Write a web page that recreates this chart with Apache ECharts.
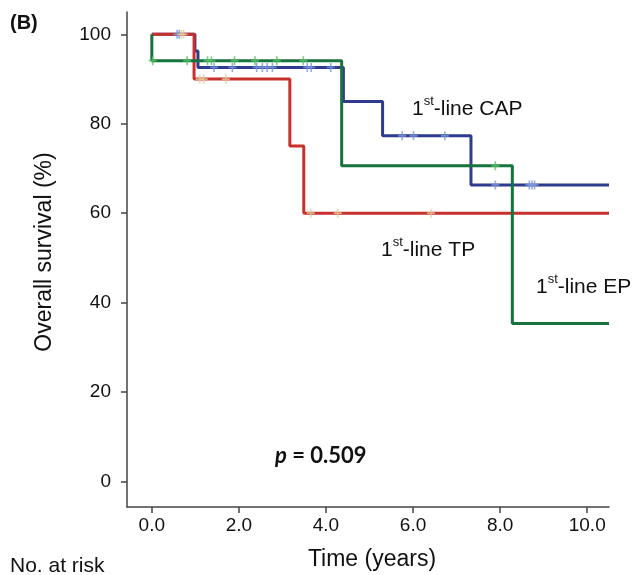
<!DOCTYPE html>
<html>
<head>
<meta charset="utf-8">
<script src="https://cdn.jsdelivr.net/npm/echarts@6/dist/echarts.min.js"></script>
<style>
  html, body { margin: 0; padding: 0; background: #fff; }
  #chart { width: 633px; height: 575px; }
</style>
</head>
<body>
<div id="chart"></div>
<script>
// Kaplan-Meier steps (time in years, survival %)
const capTimes = [0, 0.99, 1.06, 4.40, 5.30, 7.33, 10.5];
const capSurv = [100, 96.3, 92.6, 85.0, 77.3, 66.3, 66.3];
const epTimes = [0, 0, 4.36, 8.28, 10.5];
const epSurv = [100, 94.1, 70.6, 35.3, 35.3];
const tpTimes = [0, 0.97, 3.17, 3.49, 10.5];
const tpSurv = [100, 90, 75, 60, 60];

// censored observations (time in years)
const capCensor = [0.58, 0.63, 1.43, 1.85, 2.41, 2.54, 2.65, 2.77, 3.57, 3.66, 4.11, 5.75, 6.01, 6.73, 7.89, 8.67, 8.73, 8.79];
const epCensor = [0.02, 0.81, 1.28, 1.37, 1.9, 2.37, 2.87, 3.48, 7.89];
const tpCensor = [0.68, 0.73, 1.1, 1.19, 1.7, 3.65, 4.27, 6.41];

const xTicks = [0, 2, 4, 6, 8, 10];
const yTicks = [0, 20, 40, 60, 80, 100];

function steps(times, surv) {
  return times.map((t, i) => [t, surv[i]]);
}
// survival value at a given time
function survAt(times, surv, t) {
  let s = surv[0];
  for (let i = 0; i < times.length; i++) {
    if (times[i] <= t) s = surv[i];
  }
  return s;
}
function censorPts(list, times, surv) {
  return list.map(t => [t, survAt(times, surv, t)]);
}

const plus = 'path://M4,0H6V4H10V6H6V10H4V6H0V4H4Z';
const font = '"Liberation Sans", Arial, sans-serif';

function curve(name, data, color, z) {
  return {
    name: name, type: 'line', step: 'end', data: data,
    symbol: 'none', z: z,
    lineStyle: { color: color, width: 3 }
  };
}
function marks(name, data, color) {
  return {
    name: name, type: 'scatter', data: data, z: 10,
    symbol: plus, symbolSize: [8, 9],
    itemStyle: { color: color }
  };
}
function supLabel(x, y, rest) {
  return {
    type: 'text', left: x, top: y,
    style: {
      text: '{a|1}{s|st}{a|' + rest + '}',
      rich: {
        a: { fontFamily: font, fontSize: 21, fill: '#111', lineHeight: 26, verticalAlign: 'bottom' },
        s: { fontFamily: font, fontSize: 13, fill: '#111', lineHeight: 26, verticalAlign: 'top', padding: [1, 0, 0, 0] }
      }
    }
  };
}

const axisCommon = {
  axisLine: { show: true, onZero: false, lineStyle: { color: '#444', width: 1.5 } },
  splitLine: { show: false }
};

const chart = echarts.init(document.getElementById('chart'));
chart.setOption({
  animation: false,
  backgroundColor: '#fff',
  grid: { left: 127, right: 24, top: 12, bottom: 68 },
  xAxis: Object.assign({
    type: 'value', min: -0.57, max: 10.5,
    axisTick: { show: true, length: 6, customValues: xTicks, lineStyle: { color: '#444', width: 1.5 } },
    axisLabel: {
      customValues: xTicks, margin: 9, color: '#111', fontFamily: font, fontSize: 19,
      formatter: v => v.toFixed(1)
    }
  }, axisCommon),
  yAxis: Object.assign({
    type: 'value', min: -5.75, max: 105,
    axisTick: { show: true, length: 6, customValues: yTicks, lineStyle: { color: '#444', width: 1.5 } },
    axisLabel: { customValues: yTicks, margin: 16, color: '#111', fontFamily: font, fontSize: 19 }
  }, axisCommon),
  series: [
    curve('1st-line CAP', steps(capTimes, capSurv), '#2e3b8f', 2),
    curve('1st-line TP', steps(tpTimes, tpSurv), '#c8302c', 3),
    curve('1st-line EP', steps(epTimes, epSurv), '#17733d', 4),
    marks('CAP censored', censorPts(capCensor, capTimes, capSurv), '#7b97dc'),
    marks('EP censored', censorPts(epCensor, epTimes, epSurv), '#52c462'),
    marks('TP censored', censorPts(tpCensor, tpTimes, tpSurv), '#e3cc98')
  ],
  graphic: [
    {
      type: 'text', x: 10, y: 23,
      style: { text: '(B)', fontFamily: font, fontSize: 20, fontWeight: 'bold', fill: '#111', verticalAlign: 'middle' }
    },
    {
      type: 'text', x: 45, y: 252, rotation: Math.PI / 2,
      style: { text: 'Overall survival (%)', fontFamily: font, fontSize: 23, fill: '#111', align: 'center', verticalAlign: 'middle' }
    },
    {
      type: 'text', x: 372, y: 560,
      style: { text: 'Time (years)', fontFamily: font, fontSize: 23, fill: '#111', align: 'center', verticalAlign: 'middle' }
    },
    {
      type: 'text', x: 10, y: 566,
      style: { text: 'No. at risk', fontFamily: font, fontSize: 21, fill: '#111', verticalAlign: 'middle' }
    },
    {
      type: 'text', x: 275, y: 456,
      style: {
        text: '{i|p}{b| = 0.509}',
        verticalAlign: 'middle',
        rich: {
          i: { fontFamily: 'Lato, sans-serif', fontSize: 22, fontWeight: 'bold', fontStyle: 'italic', fill: '#111' },
          b: { fontFamily: 'Lato, sans-serif', fontSize: 22, fontWeight: 'bold', fill: '#111' }
        }
      }
    },
    supLabel(412, 94, '-line CAP'),
    supLabel(381, 235, '-line TP'),
    supLabel(536, 272, '-line EP')
  ]
});
</script>
</body>
</html>
